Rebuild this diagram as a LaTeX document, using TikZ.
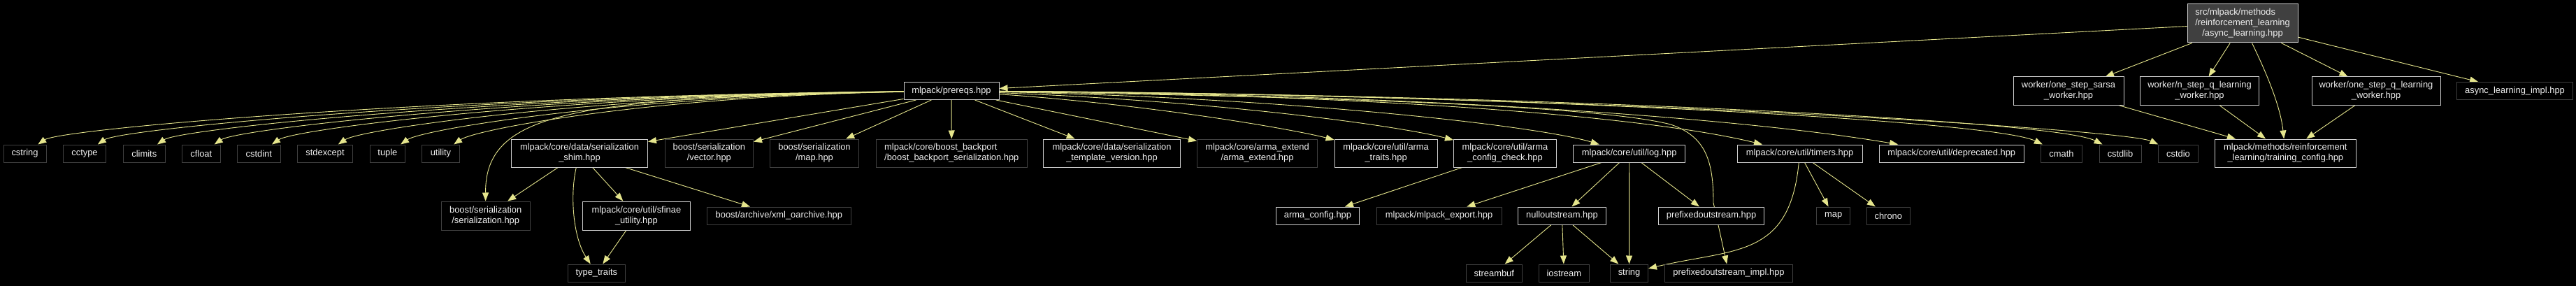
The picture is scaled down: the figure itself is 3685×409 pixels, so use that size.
\documentclass[tikz,border=0pt]{standalone}
\usepackage{fontspec}
\usepackage{calc}
\newfontfamily\labfont{Liberation Sans}
\usetikzlibrary{arrows.meta}
\definecolor{edgec}{RGB}{229,229,140}
\definecolor{docc}{RGB}{205,205,205}
\definecolor{extc}{RGB}{64,64,64}
\definecolor{rootc}{RGB}{64,64,64}
\definecolor{txtc}{RGB}{240,240,240}
\pgfdeclarelayer{bg}
\pgfdeclarelayer{edgelayer}
\pgfsetlayers{bg,edgelayer,main}
\tikzset{
  base/.style={rectangle, inner sep=0pt, text=txtc, font={\labfont\fontsize{12.9}{15}\selectfont}, align=center, line width=1pt, fill=black},
  doc/.style={base, draw=docc},
  ext/.style={base, draw=extc},
  root/.style={base, draw=docc, fill=rootc},
  one/.style={minimum height=25},
  two/.style={minimum height=40},
  e/.style={draw=edgec, line width=0.9pt, -{Triangle[length=12pt,width=9pt]}}
}
\begin{document}
\begin{tikzpicture}[x=1pt,y=-1pt]
\begin{pgfonlayer}{bg}
\fill[black] (0,0) rectangle (3685,409);
\end{pgfonlayer}
\useasboundingbox (0,0) rectangle (3685,409);

% row 0 / 1
\node[root, minimum width=158, minimum height=55] (top) at (3208,33.5) {\makebox[\widthof{/reinforcement\_learning}][l]{src/mlpack/methods}\\/reinforcement\_learning\\/async\_learning.hpp};
\node[doc, one, minimum width=136] (prereqs) at (1361,130) {mlpack/prereqs.hpp};
\node[doc, two, minimum width=158] (sarsa) at (2959,130) {worker/one\_step\_sarsa\\\_worker.hpp};
\node[doc, two, minimum width=170.5] (nstep) at (3146.5,130) {worker/n\_step\_q\_learning\\\_worker.hpp};
\node[doc, two, minimum width=184] (onestepq) at (3399,130) {worker/one\_step\_q\_learning\\\_worker.hpp};
\node[ext, one, minimum width=165.5] (impl) at (3597.5,130) {async\_learning\_impl.hpp};

% row 2
\node[ext, one, minimum width=61] (cstring) at (35.5,219.5) {cstring};
\node[ext, one, minimum width=61.5] (cctype) at (121,219.5) {cctype};
\node[ext, one, minimum width=60] (climits) at (206.3,219.5) {climits};
\node[ext, one, minimum width=54.5] (cfloat) at (287.8,219.5) {cfloat};
\node[ext, one, minimum width=62] (cstdint) at (370.3,219.5) {cstdint};
\node[ext, one, minimum width=79] (stdexcept) at (465,219.5) {stdexcept};
\node[ext, one, minimum width=50.6] (tuple) at (554.4,219.5) {tuple};
\node[ext, one, minimum width=54] (utility) at (630.5,219.5) {utility};
\node[doc, two, minimum width=195] (shim) at (829,219) {mlpack/core/data/serialization\\\_shim.hpp};
\node[ext, two, minimum width=126.5] (vector) at (1014.3,219) {boost/serialization\\/vector.hpp};
\node[ext, two, minimum width=127.5] (bmap) at (1165,219) {boost/serialization\\/map.hpp};
\node[ext, two, minimum width=216, align=left] (backport) at (1361.3,219) {mlpack/core/boost\_backport\\/boost\_backport\_serialization.hpp};
\node[doc, two, minimum width=195.7] (tmplv) at (1590.5,219) {mlpack/core/data/serialization\\\_template\_version.hpp};
\node[ext, two, minimum width=172] (armaext) at (1798.5,219) {mlpack/core/arma\_extend\\/arma\_extend.hpp};
\node[doc, two, minimum width=147] (armatraits) at (1982.6,219) {mlpack/core/util/arma\\\_traits.hpp};
\node[doc, two, minimum width=147] (acc) at (2153,219) {mlpack/core/util/arma\\\_config\_check.hpp};
\node[doc, one, minimum width=160.5] (log) at (2330.7,219.5) {mlpack/core/util/log.hpp};
\node[doc, one, minimum width=179] (timers) at (2574.5,219.5) {mlpack/core/util/timers.hpp};
\node[doc, one, minimum width=207] (deprecated) at (2791.7,219.5) {mlpack/core/util/deprecated.hpp};
\node[ext, one, minimum width=59] (cmath) at (2949,219.5) {cmath};
\node[ext, one, minimum width=60] (cstdlib) at (3033,219.5) {cstdlib};
\node[ext, one, minimum width=57.5] (cstdio) at (3116,219.5) {cstdio};
\node[doc, two, minimum width=201.5] (tc) at (3269.3,219) {mlpack/methods/reinforcement\\\_learning/training\_config.hpp};

% row 3
\node[ext, minimum height=41, minimum width=127] (ser) at (694.7,308.5) {boost/serialization\\/serialization.hpp};
\node[doc, minimum height=41, minimum width=153.4] (sfinae) at (910.4,308.5) {mlpack/core/util/sfinae\\\_utility.hpp};
\node[ext, one, minimum width=206.4] (xml) at (1114.4,308.5) {boost/archive/xml\_oarchive.hpp};
\node[doc, one, minimum width=119.4] (armacfg) at (1885,308.5) {arma\_config.hpp};
\node[ext, one, minimum width=179] (export) at (2058.6,308.5) {mlpack/mlpack\_export.hpp};
\node[doc, one, minimum width=125.3] (null) at (2234.4,308.5) {nulloutstream.hpp};
\node[doc, one, minimum width=151] (pfx) at (2448,308.5) {prefixedoutstream.hpp};
\node[ext, one, minimum width=47.4] (smap) at (2622.6,308.5) {map};
\node[ext, one, minimum width=61.6] (chrono) at (2701.3,308.5) {chrono};

% row 4
\node[ext, one, minimum width=82.6] (tt) at (853.3,390.5) {type\_traits};
\node[ext, one, minimum width=79.8] (streambuf) at (2137.3,390.5) {streambuf};
\node[ext, one, minimum width=72] (iostream) at (2237.3,390.5) {iostream};
\node[ext, one, minimum width=54] (string) at (2330.5,390.5) {string};
\node[ext, one, minimum width=183] (pimpl) at (2473,390.5) {prefixedoutstream\_impl.hpp};

\begin{pgfonlayer}{edgelayer}
% root edges
\draw[e] (top) -- (prereqs);
\draw[e] (top) -- (sarsa);
\draw[e] (top) -- (nstep);
\draw[e] (top) .. controls (3240,100) and (3262,150) .. (tc);
\draw[e] (top) -- (onestepq);
\draw[e] (top) -- (impl);
\draw[e] (sarsa) -- (tc);
\draw[e] (nstep) -- (tc);
\draw[e] (onestepq) -- (tc);

% prereqs left fan
\draw[e] (prereqs) .. controls (601,138) and (85.5,185) .. (cstring);
\draw[e] (prereqs) .. controls (648,138) and (171,185) .. (cctype);
\draw[e] (prereqs) .. controls (695,138) and (256,185) .. (climits);
\draw[e] (prereqs) .. controls (740,138) and (338,185) .. (cfloat);
\draw[e] (prereqs) .. controls (785,138) and (420,185) .. (cstdint);
\draw[e] (prereqs) .. controls (838,138) and (515,185) .. (stdexcept);
\draw[e] (prereqs) .. controls (887,138) and (604,185) .. (tuple);
\draw[e] (prereqs) .. controls (929,138) and (680,185) .. (utility);
\draw[e] (prereqs) .. controls (820,140) and (694,160) .. (ser);
\draw[e] (prereqs) -- (shim);
\draw[e] (prereqs) -- (vector);
\draw[e] (prereqs) -- (bmap);

% prereqs right fan
\draw[e] (prereqs) -- (backport);
\draw[e] (prereqs) -- (tmplv);
\draw[e] (prereqs) -- (armaext);
\draw[e] (prereqs) .. controls (1650,150) and (1850,185) .. (armatraits);
\draw[e] (prereqs) .. controls (1750,145) and (2000,180) .. (acc);
\draw[e] (prereqs) .. controls (1850,140) and (2200,180) .. (log);
\draw[e] (prereqs) .. controls (2000,140) and (2300,155) .. (2390,178) .. controls (2440,195) and (2451,230) .. (2451,290) -- (pimpl);
\draw[e] (prereqs) .. controls (1950,135) and (2350,165) .. (timers);
\draw[e] (prereqs) .. controls (2050,135) and (2500,170) .. (deprecated);
\draw[e] (prereqs) .. controls (2150,135) and (2850,172) .. (cmath);
\draw[e] (prereqs) .. controls (2200,135) and (2940,172) .. (cstdlib);
\draw[e] (prereqs) .. controls (2250,135) and (3040,185) .. (cstdio);

% shim
\draw[e] (shim) -- (ser);
\draw[e] (shim) .. controls (815,280) and (820,340) .. (tt);
\draw[e] (shim) -- (sfinae);
\draw[e] (shim) -- (xml);
\draw[e] (sfinae) -- (tt);

% arma config
\draw[e] (acc) -- (armacfg);

% log
\draw[e] (log) -- (export);
\draw[e] (log) -- (null);
\draw[e] (log) -- (string);
\draw[e] (log) -- (pfx);
\draw[e] (null) -- (streambuf);
\draw[e] (null) -- (iostream);
\draw[e] (null) -- (string);

% timers
\draw[e] (timers) .. controls (2560,370) and (2480,355) .. (string);
\draw[e] (timers) -- (smap);
\draw[e] (timers) -- (chrono);
\end{pgfonlayer}
\end{tikzpicture}
\end{document}
